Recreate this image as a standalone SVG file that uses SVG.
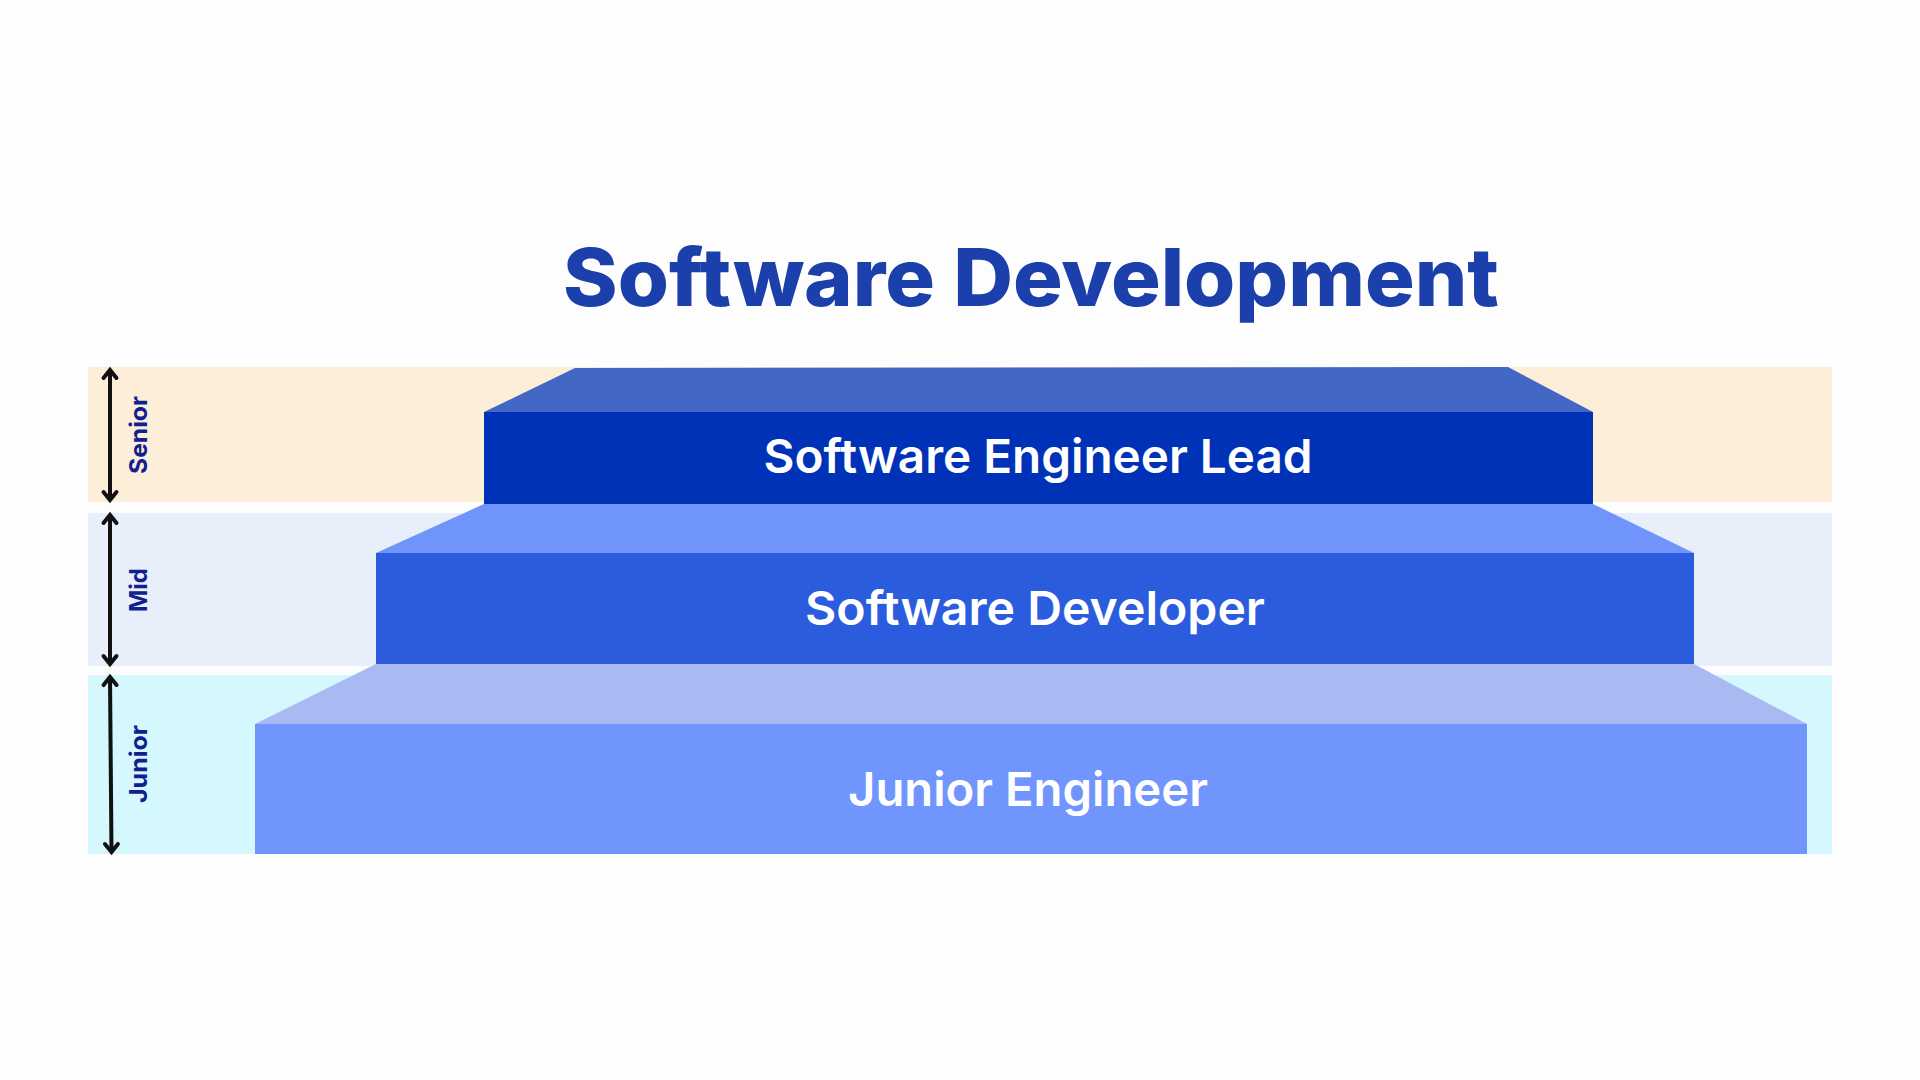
<svg xmlns="http://www.w3.org/2000/svg" width="1920" height="1080" viewBox="0 0 1920 1080">
  <style>
    .title { font-family: Inter, "Open Sans", "Liberation Sans", sans-serif; font-weight: 800; font-size: 80px; fill: #1B3FAB; }
    .step { font-family: Inter, "Open Sans", "Liberation Sans", sans-serif; font-weight: 600; font-size: 47px; fill: #FFFFFF; }
    .lvl { font-family: Inter, "Open Sans", "Liberation Sans", sans-serif; font-weight: 700; font-size: 24px; fill: #10208E; }
    .arrow { stroke: #111111; stroke-width: 4; fill: none; marker-start: url(#chev); marker-end: url(#chev); }
  </style>
  <defs>
    <marker id="chev" markerUnits="userSpaceOnUse" viewBox="-12 -12 24 24" markerWidth="24" markerHeight="24" refX="0" refY="0" orient="auto-start-reverse">
      <path d="M-8,-6.5 L0,0 L-8,6.5" fill="none" stroke="#111111" stroke-width="4" stroke-linecap="round" stroke-linejoin="miter"/>
    </marker>
  </defs>
  <rect x="0" y="0" width="1920" height="1080" fill="#FDFDFD"/>

  <g id="title">
    <text class="title" x="1031" y="306" text-anchor="middle" textLength="936" lengthAdjust="spacingAndGlyphs">Software Development</text>
  </g>

  <g id="bands">
    <rect id="band-senior" x="88" y="367" width="1744" height="135" fill="#FDEEDA"/>
    <rect id="band-mid" x="88" y="513" width="1744" height="153" fill="#E8EEFA"/>
    <rect id="band-junior" x="88" y="675" width="1744" height="179" fill="#D5F7FE"/>
  </g>

  <g id="node-junior">
    <polygon points="376,664 1694,664 1807,724 255,724" fill="#A9B9F2"/>
    <rect x="255" y="724" width="1552" height="130" fill="#7095FD"/>
    <text class="step" x="1028" y="806" text-anchor="middle" textLength="360" lengthAdjust="spacingAndGlyphs">Junior Engineer</text>
  </g>

  <g id="node-mid">
    <polygon points="484,504 1593,504 1694,553 376,553" fill="#6F95FD"/>
    <rect x="376" y="553" width="1318" height="111" fill="#2C5CDE"/>
    <text class="step" x="1035" y="625" text-anchor="middle" textLength="460" lengthAdjust="spacingAndGlyphs">Software Developer</text>
  </g>

  <g id="node-senior">
    <polygon points="575,368 1508,367 1593,412 484,412" fill="#4267C4"/>
    <rect x="484" y="412" width="1109" height="92" fill="#0032B7"/>
    <text class="step" x="1038" y="473" text-anchor="middle" textLength="549" lengthAdjust="spacingAndGlyphs">Software Engineer Lead</text>
  </g>

  <g id="level-labels">
    <text class="lvl" transform="translate(147,435) rotate(-90)" text-anchor="middle" textLength="78" lengthAdjust="spacingAndGlyphs">Senior</text>
    <text class="lvl" transform="translate(147,590) rotate(-90)" text-anchor="middle" textLength="44" lengthAdjust="spacingAndGlyphs">Mid</text>
    <text class="lvl" transform="translate(147,764) rotate(-90)" text-anchor="middle" textLength="78" lengthAdjust="spacingAndGlyphs">Junior</text>
  </g>

  <g id="connectors">
    <line class="arrow" x1="110" y1="370" x2="110" y2="500"/>
    <line class="arrow" x1="110" y1="515" x2="110" y2="664"/>
    <line class="arrow" x1="110" y1="677" x2="111.5" y2="852"/>
  </g>
</svg>
